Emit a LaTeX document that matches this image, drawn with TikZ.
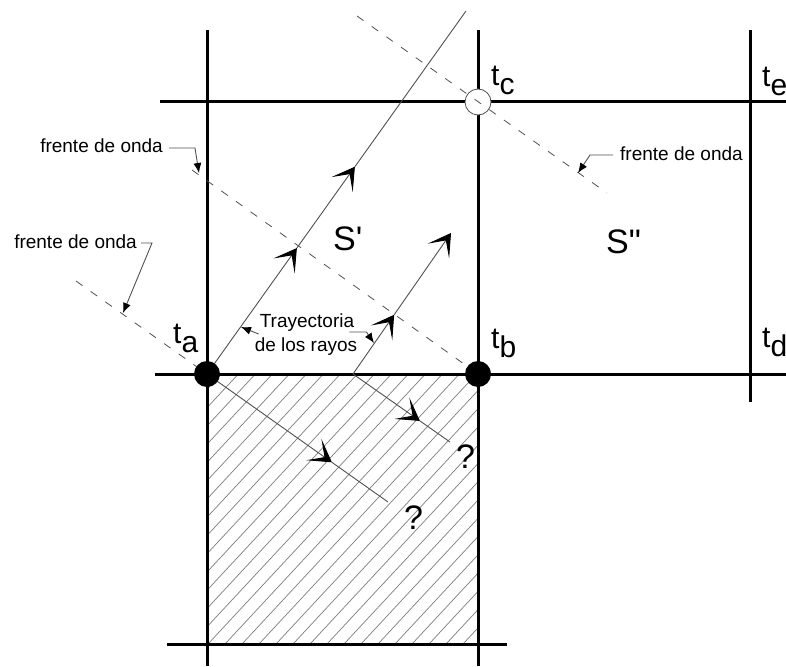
\documentclass[tikz,border=0pt]{standalone}
\usepackage{fontspec}
\setmainfont{Liberation Sans}[Ligatures=TeXOff]
\usetikzlibrary{arrows.meta,calc,positioning}
\definecolor{RayGray}{RGB}{80,80,80}
\definecolor{HatchGray}{RGB}{125,125,125}
\newcommand{\tsub}[2]{#1\raisebox{-0.3em}{#2}}

\begin{document}
\begin{tikzpicture}[x=1pt,y=-1pt,
    grid/.style={line width=3pt},
    ray/.style={line width=0.9pt, RayGray},
    wave/.style={line width=0.8pt, RayGray, dash pattern=on 8pt off 10pt},
    hatch/.style={line width=0.7pt, HatchGray},
    raytip/.style={-{Stealth[length=22pt,width=26pt,inset=13pt,black]}},
    leader/.style={line width=0.9pt, RayGray, -{Latex[length=10pt,width=8pt,black]}},
    lbl/.style={inner sep=0pt, font=\fontsize{19}{23}\selectfont},
    big/.style={inner sep=0pt, font=\fontsize{34}{36}\selectfont},
    tlbl/.style={inner sep=0pt, font=\fontsize{30}{32}\selectfont}]
    \useasboundingbox (0,0) rectangle (786,666);

    % corner points
    \coordinate (ta) at (207,374);
    \coordinate (tb) at (478,374);
    \coordinate (tc) at (478,102);

    % hatched cell
    \begin{scope}
      \clip (ta) rectangle (478,644);
      \foreach \k in {-16,...,16}
        \draw[hatch] (208+\k*17,644) -- ++(270,-290);
    \end{scope}

    % grid
    \foreach \x in {207,478}
      \draw[grid] (\x,30) -- (\x,666);
    \draw[grid] (750,30) -- (750,402);
    \draw[grid] (160,102) -- (786,102);
    \draw[grid] (155,374) -- (786,374);
    \draw[grid] (167,644) -- (507,644);

    \draw[RayGray, fill=white, line width=0.8pt] (tc) circle (13pt);

    % rays
    \coordinate (r1end) at (466,11);
    \coordinate (r1a) at ($(ta)!0.347!(r1end)$);
    \coordinate (r1b) at ($(ta)!0.571!(r1end)$);
    \draw[ray, raytip] (ta) -- (r1a);
    \draw[ray, raytip] (r1a) -- (r1b);
    \draw[ray] (r1b) -- (r1end);

    \coordinate (r2s) at (353,374);
    \coordinate (r2end) at (451,233);
    \coordinate (r2a) at ($(r2s)!0.42!(r2end)$);
    \draw[ray, raytip] (r2s) -- (r2a);
    \draw[ray, raytip] (r2a) -- (r2end);

    \coordinate (l1end) at (388,502);
    \coordinate (l1a) at ($(ta)!0.69!(l1end)$);
    \draw[ray, raytip] (ta) -- (l1a);
    \draw[ray] (l1a) -- (l1end);

    \coordinate (l2end) at (450,442);
    \coordinate (l2a) at ($(r2s)!0.69!(l2end)$);
    \draw[ray, raytip] (r2s) -- (l2a);
    \draw[ray] (l2a) -- (l2end);

    % wave fronts
    \draw[wave] (76,281) -- (ta);
    \draw[wave] (192,170) -- (tb);
    \draw[wave] (357,16) -- (607,193);

    \fill (ta) circle (13pt);
    \fill (tb) circle (13pt);

    % labels
    \node[tlbl, anchor=base west] (lta) at (173,343) {\tsub{t}{a}};
    \node[tlbl, anchor=base west] (ltb) at (491,348) {\tsub{t}{b}};
    \node[tlbl, anchor=base west] (ltc) at (491,86) {\tsub{t}{c}};
    \node[tlbl, anchor=base west] (lte) at (762,87) {\tsub{t}{e}};
    \node[tlbl, anchor=base west] (ltd) at (762,347) {\tsub{t}{d}};
    \node[big, anchor=base west] (sone) at (333,250) {S'};
    \node[big, anchor=base west] (stwo) at (606,253) {S"};
    \node[big, anchor=base west] (qone) at (456,468) {?};
    \node[big, anchor=base west] (qtwo) at (404,529) {?};

    \node[lbl, anchor=base east] (fw1) at (163,152) {frente de onda};
    \node[lbl, anchor=base east] (fw2) at (137,248) {frente de onda};
    \node[lbl, anchor=base west] (fw3) at (620,160) {frente de onda};
    \node[lbl, anchor=base] (traj1) at (307,327) {Trayectoria};
    \node[lbl, anchor=base] (traj2) at (306,351) {de los rayos};

    % leaders
    \coordinate (fw1tip) at (199,173);
    \coordinate (fw2tip) at (123,313);
    \coordinate (fw3tip) at (578,173);
    \coordinate (trtip1) at (241,327);
    \coordinate (trtip2) at (374,343);
    \draw[leader] ($(fw1.base east)+(6,-4)$) -- ++(26,0) -- (fw1tip);
    \draw[leader] ($(fw2.base east)+(4,-5)$) -- ++(11,0) -- (fw2tip);
    \draw[leader] ($(fw3.base west)+(-7,-5)$) -- ++(-23,0) -- (fw3tip);
    \draw[leader] ($(traj1.base west)+(-1,7)$) -- (trtip1);
    \draw[leader] ($(traj1.base east)+(-5,5)$) -- ++(17,0) -- (trtip2);
  \end{tikzpicture}
\end{document}
